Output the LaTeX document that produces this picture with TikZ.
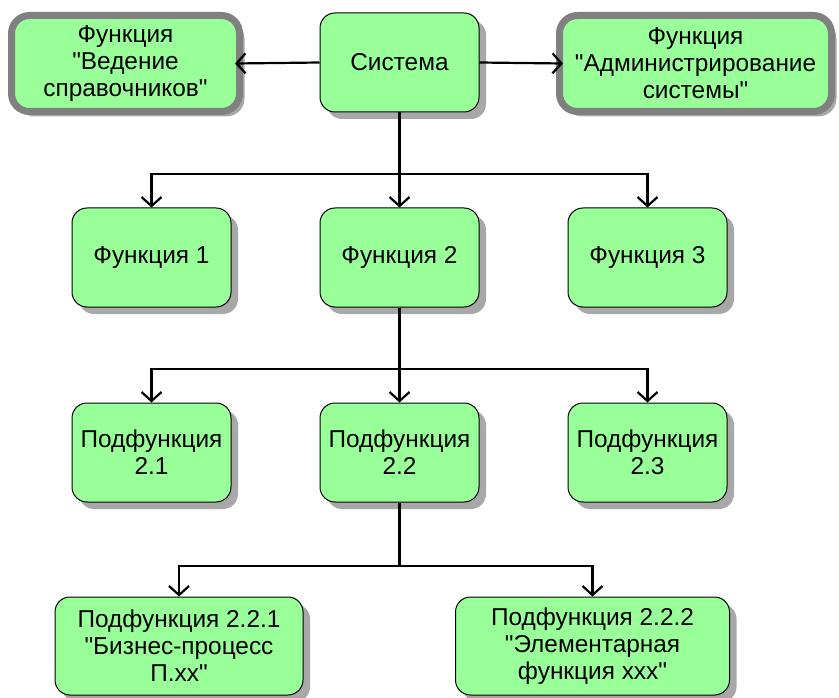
\documentclass[tikz,border=0pt]{standalone}
\usepackage{fontspec}
\setmainfont{Liberation Sans}[Ligatures=TeXOff]
\usetikzlibrary{arrows.meta,shadows}
\definecolor{boxgreen}{HTML}{99FF99}
\definecolor{framegray}{HTML}{808080}
\definecolor{shadowgray}{HTML}{A8A8A8}
\tikzset{
  x=1pt,y=1pt,
  fbox/.style={draw=black, line width=1pt, fill=boxgreen, rounded corners=15pt,
    align=center, inner sep=2pt, font=\fontsize{24.4}{27}\selectfont,
    drop shadow={shadow xshift=7pt, shadow yshift=-7pt, fill=shadowgray, opacity=1}},
  specbox/.style={draw=framegray, line width=7pt, fill=boxgreen, rounded corners=18pt,
    align=center, inner sep=2pt, font=\fontsize{24.4}{27}\selectfont,
    drop shadow={shadow xshift=5pt, shadow yshift=-5pt, fill=shadowgray, opacity=1}},
  arr/.style={line width=2.2pt, -{Straight Barb[length=9pt,width=20pt,line width=2.2pt]}},
  conn/.style={line width=2.2pt}
}
\begin{document}
\begin{tikzpicture}
\useasboundingbox (0,0) rectangle (839,-698);
% top row
\node[fbox, minimum width=159, minimum height=99] (sys) at (399.5,-62.5) {Система};
\node[specbox, minimum width=228, minimum height=96] (left) at (125.5,-63.5) {Функция\\"Ведение\\справочников"};
\node[specbox, minimum width=272, minimum height=96] (right) at (695.5,-63.5) {Функция\\"Администрирование\\системы"};
% second row
\node[fbox, minimum width=159, minimum height=99] (f1) at (151.5,-257.5) {Функция 1};
\node[fbox, minimum width=159, minimum height=99] (f2) at (399.5,-257.5) {Функция 2};
\node[fbox, minimum width=159, minimum height=99] (f3) at (647.5,-257.5) {Функция 3};
% third row
\node[fbox, minimum width=159, minimum height=99] (p1) at (151.5,-452.5) {Подфункция\\2.1};
\node[fbox, minimum width=159, minimum height=99] (p2) at (399.5,-452.5) {Подфункция\\2.2};
\node[fbox, minimum width=159, minimum height=99] (p3) at (647.5,-452.5) {Подфункция\\2.3};
% fourth row
\node[fbox, minimum width=248, minimum height=98] (g1) at (179,-646) {Подфункция 2.2.1\\"Бизнес-процесс\\П.xx"};
\node[fbox, minimum width=274, minimum height=98] (g2) at (592.5,-646) {Подфункция 2.2.2\\"Элементарная\\функция xxx"};
% connectors
\draw[arr] (sys.west) -- ([xshift=-8pt]left.east);
\draw[arr] (sys.east) -- ([xshift=7pt]right.west);
\coordinate (j1) at (399.5,-174);
\coordinate (j2) at (399.5,-369);
\coordinate (j3) at (399.5,-566);
\draw[conn] (sys.south) -- (j1);
\draw[arr] (j1) -- (f2.north);
\draw[arr] (j1) -| (f1.north);
\draw[arr] (j1) -| (f3.north);
\draw[conn] (f2.south) -- (j2);
\draw[arr] (j2) -- (p2.north);
\draw[arr] (j2) -| (p1.north);
\draw[arr] (j2) -| (p3.north);
\draw[conn] (p2.south) -- (j3);
\draw[arr] (j3) -| (g1.north);
\draw[arr] (j3) -| (g2.north);
\end{tikzpicture}
\end{document}
